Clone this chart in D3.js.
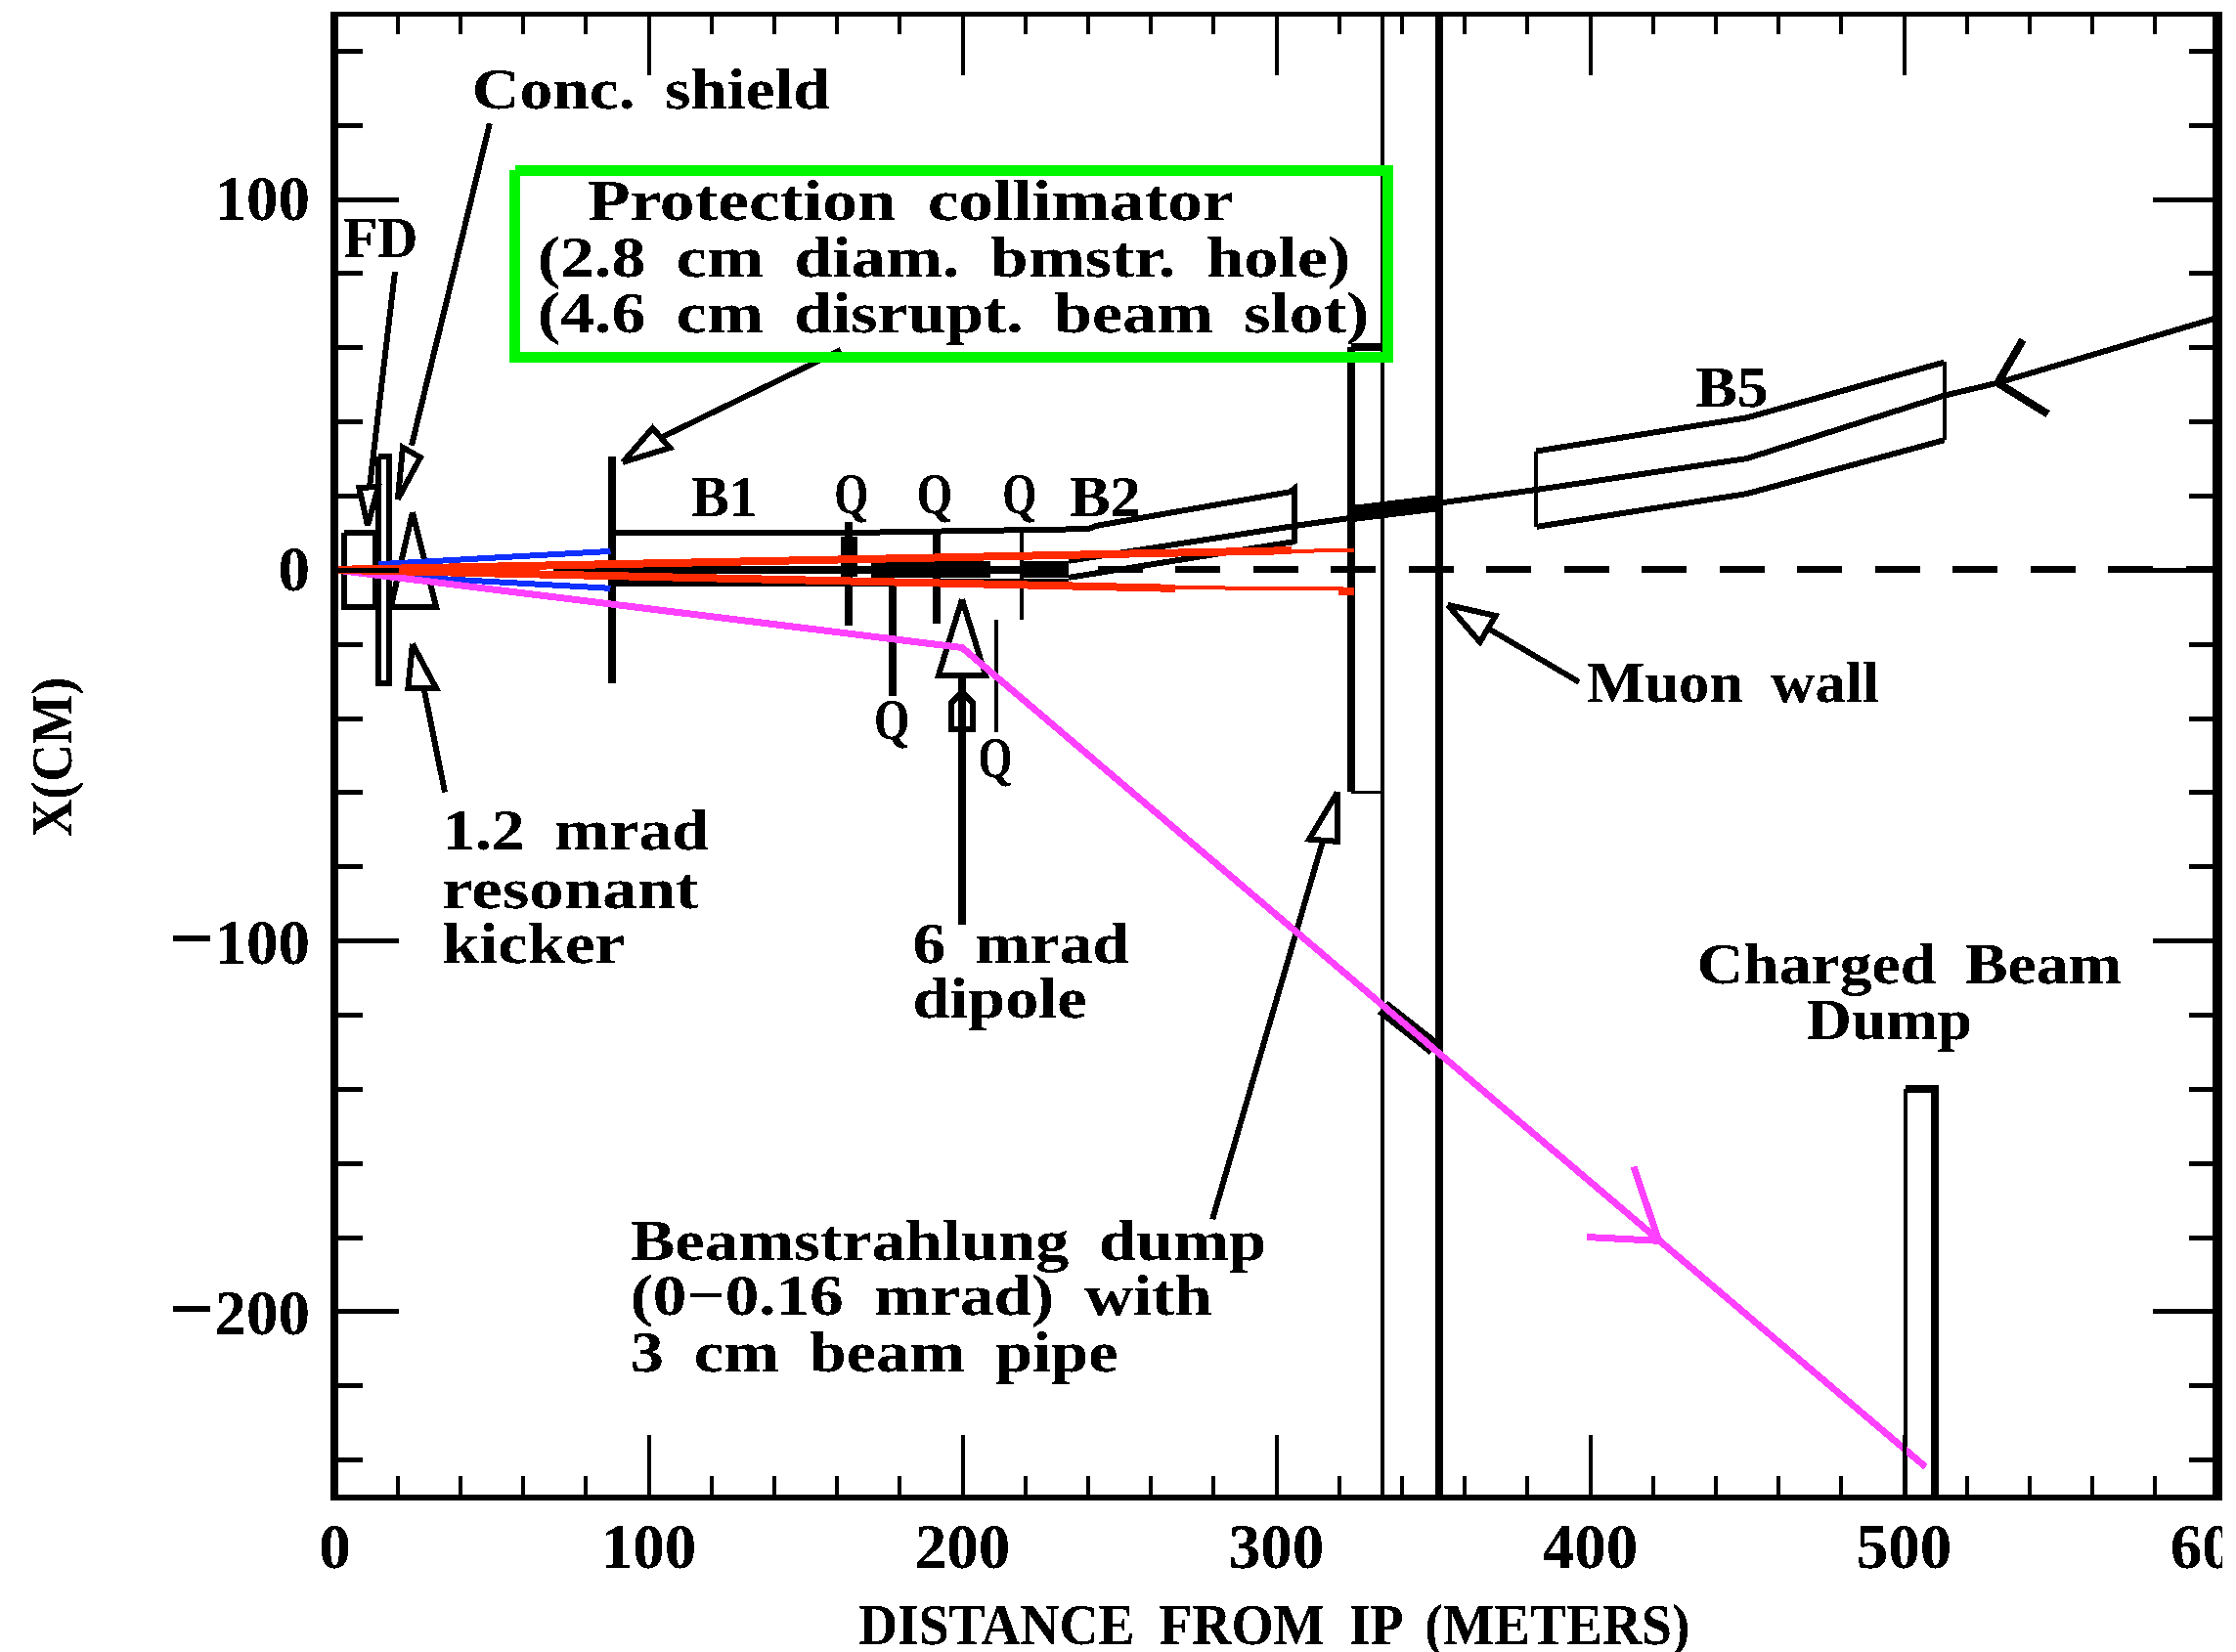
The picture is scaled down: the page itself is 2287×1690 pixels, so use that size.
<!DOCTYPE html>
<html>
<head>
<meta charset="utf-8">
<script src="https://d3js.org/d3.v7.min.js"></script>
<style>
    html, body { margin: 0; padding: 0; background: #fff; }
    svg { display: block; }
    text { font-family: "Liberation Serif", serif; font-weight: bold; fill: #000; word-spacing: 12px; }
    .axis text { font-size: 65px; font-family: "Liberation Serif", serif; }
    .axis .domain { display: none; }
    .axis line { stroke: #000; stroke-width: 4; shape-rendering: crispEdges; }
    .axis.yticks line { stroke-width: 5; }
    .frame { stroke: #000; fill: none; shape-rendering: crispEdges; }
    .mark { fill: none; stroke: #000; stroke-width: 6; shape-rendering: crispEdges; stroke-linejoin: miter; }
    .thin { stroke-width: 3.5; }
    .mid { stroke-width: 4; }
    .heavy { stroke-width: 8; }
    .block { stroke-width: 17; }
    .beam { fill: none; stroke: #ff40ff; stroke-width: 7; shape-rendering: crispEdges; }
    .blue { fill: none; stroke: #1030ff; stroke-width: 6; shape-rendering: crispEdges; }
    .red { fill: none; stroke: #ff2a00; stroke-width: 8; shape-rendering: crispEdges; }
    .red.thin { stroke-width: 4; }
    .centre { fill: none; stroke: #ff2a00; stroke-width: 8; shape-rendering: crispEdges; }
    .greenbox { fill: none; stroke: #00f500; stroke-width: 11; shape-rendering: crispEdges; }
    .dash { fill: none; stroke: #000; stroke-width: 7; stroke-dasharray: 46 33.5; stroke-dashoffset: 14.5; shape-rendering: crispEdges; }
</style>
</head>
<body>
<div id="chart"></div>
<script>
    // ---- axis ticks
    var xMajor = [0, 100, 200, 300, 400, 500, 600];
    var xMinor = [20, 40, 60, 80, 120, 140, 160, 180, 220, 240, 260, 280, 320, 340, 360, 380, 420, 440, 460, 480, 520, 540, 560, 580];
    var yMajor = [-200, -100, 0, 100];
    var yMinor = [-240, -220, -180, -160, -140, -120, -80, -60, -40, -20, 20, 40, 60, 80, 120, 140];

    // ---- beam trajectories (metres, cm)
    var spentBeam = [[0, 0], [200, -21], [507, -242]];
    var spentArrow = [[414, -161], [422, -181], [399, -180]];
    var blueUpper = [[14, 1.5], [88, 5]];
    var blueLower = [[14, -1.5], [88, -5]];
    var redCentre = [[0, 0], [26, 0]];
    var redUpper = [[0, 0], [305, 5.2]];
    var redUpperEnd = [[270, 4.8], [325, 5.2]];
    var redLower = [[0, 0], [268, -5]];
    var redLowerEnd = [[268, -4.8], [325, -5.2]];
    var redLowerBlob = [[320, -5.8], [325, -5.8]];
    var chargedBeam = [[324, 14], [352, 18], [383, 21.6], [450, 30], [513, 47], [530, 50.4], [600, 68]];
    var chargedArrow = [[538, 62], [530, 50.4], [546, 42]];
    var chargedPipe = [[325, 15.2], [352, 18]];

    // ---- magnets
    var b1Top = [[88, 10], [165, 10], [240, 11], [243, 11.9], [304.5, 21], [306, 22], [306, 7]];
    var b1Bottom = [[88, -3.4], [234, -3.4]];
    var b2Middle = [[234, 2.4], [306.5, 11.9], [324, 14]];
    var b2Lower = [[234, -2.1], [306, 7.6]];
    var coreBand = [[82, 0], [234, 0]];
    var coreBlocks = [[[171, 0.2], [209, 0.2]], [[219, 0.2], [234, 0.2]]];
    var q1Block = [[164, 9], [164, -2]];
    var b5Top = [[383, 32], [450, 41], [513, 56]];
    var b5Bottom = [[383, 11.6], [450, 20.5], [513, 35]];
    var b5Ends = [[[383, 32], [383, 11.6]], [[513, 56], [513, 35]]];
    var quadsHeavy = [[[164, 13], [164, -15]], [[192, 10], [192, -14.5]], [[178, -3.4], [178, -34]]];
    var quadsThin = [[[219, 10], [219, -13.4]], [[211, -13.5], [211, -43.7]]];

    // ---- walls, dumps, shields
    var fdBox = [[3, 10], [13, 10], [13, -10], [3, -10], [3, 10]];
    var concShield = [[14, 30.5], [17.4, 30.5], [17.4, -30.5], [14, -30.5], [14, 30.5]];
    var collimator = [[88.5, 30.5], [88.5, -30.5]];
    var kicker = [[24.9, 15.5], [32.4, -10], [18, -10], [24.9, 15.5]];
    var muonWallThin = [[334, 150], [334, -250]];
    var muonWall = [[352, 150], [352, -250]];
    var beamDumpTop = [[324, 60], [334, 60]];
    var beamDumpSide = [[324, -60], [324, 60]];
    var beamDumpBase = [[324, -60], [334, -60]];
    var dumpPipe = [[334, -118], [350.5, -129]];
    var chargedDumpLeft = [[500.6, -250], [500.6, -140]];
    var chargedDump = [[500.6, -140], [510, -140], [510, -250]];
    var dipoleShaft = [[200, -95.7], [200, -28]];
    var dipoleHead = [[200, -8], [207.5, -28.5], [192.5, -28.5], [200, -8]];
    var dipoleTip = [[200, -33], [203.5, -36], [203.5, -43], [196.5, -43], [196.5, -36], [200, -33]];
    var protectionBox = [[57.6, 107.8], [335.8, 107.8], [335.8, 57.2], [57.6, 57.2], [57.6, 107.8]];

    // ---- pointers: [line, head]
    var pointers = [
        [[[49.5, 120.4], [24.6, 33.5]], [[20.2, 19], [21.8, 33], [27.4, 30.3], [20.2, 19]]],
        [[[19.3, 80.4], [11.2, 22.1]], [[10.6, 11.9], [7.9, 22.1], [14, 22.4], [10.6, 11.9]]],
        [[[35.2, -60], [28.5, -31.9]], [[24.9, -20], [23.5, -31.9], [32.4, -31.9], [24.9, -20]]],
        [[[161.4, 59.3], [104, 35.6]], [[91.9, 29], [101.4, 38.2], [106.9, 32.9], [91.9, 29]]],
        [[[396.6, -30.3], [367.6, -15.8]], [[354.8, -9.5], [370, -12.4], [365, -19.5], [354.8, -9.5]]],
        [[[279.8, -175.2], [315, -73]], [[319.6, -60], [310.6, -72.7], [319.6, -73.3], [319.6, -60]]]
    ];

    // ---- labels
    var labelText = ["Conc. shield", "FD", "Protection collimator", "(2.8 cm diam. bmstr. hole)", "(4.6 cm disrupt. beam slot)",
        "B1", "Q", "Q", "Q", "B2", "B5", "Muon wall", "Q", "Q", "1.2 mrad", "resonant", "kicker", "6 mrad", "dipole",
        "Charged Beam", "Dump", "Beamstrahlung dump", "(0\u22120.16 mrad) with", "3 cm beam pipe"];
    // left, right, baseline as read from the 1568 wide preview
    var labelSpots = [[331, 582, 76], [241, 293, 180], [412, 865, 154], [377, 947, 194], [377, 960, 233],
        [485, 531, 362], [585, 609, 360], [643, 668, 360], [703, 727, 360], [750, 800, 362], [1189, 1240, 285],
        [1113, 1318, 492], [613, 638, 518], [686, 710, 545], [310, 497, 596], [310, 490, 637], [310, 438, 675],
        [640, 792, 675], [640, 762, 714], [1190, 1488, 690], [1267, 1383, 729], [442, 888, 884], [442, 850, 922], [442, 784, 962]];

    var W = 2287, H = 1690;
    var k = W / 1568;

    var svg = d3.select("#chart").append("svg")
        .attr("width", W)
        .attr("height", H);

    // threshold filter so the text stays hard edged like the old bitmap
    var defs = svg.append("defs");
    var hard = defs.append("filter").attr("id", "hard")
        .attr("x", "-5%").attr("y", "-10%").attr("width", "110%").attr("height", "120%");
    var ct = hard.append("feComponentTransfer");
    ct.append("feFuncA").attr("type", "discrete").attr("tableValues", "0 0 1 1 1");
    defs.append("clipPath").attr("id", "page").append("rect")
        .attr("x", 0).attr("y", 0).attr("width", 2273).attr("height", H);
    defs.append("clipPath").attr("id", "plot").append("rect")
        .attr("x", 342).attr("y", 14).attr("width", 1926).attr("height", 1517);

    var x = d3.scaleLinear().domain([0, 600]).range([342, 2268]);
    var y = d3.scaleLinear().domain([-250, 150]).range([1531, 14]);
    var line = d3.line().x(function(d) { return x(d[0]); }).y(function(d) { return y(d[1]); });

    var root = svg.append("g").attr("clip-path", "url(#page)");
    var plot = root.append("g").attr("clip-path", "url(#plot)");

    function draw(pts, cls) {
        return plot.append("path").attr("d", line(pts)).attr("class", cls);
    }

    // axes
    var noLabel = function() { return ""; };
    root.append("g").attr("class", "axis").attr("transform", "translate(0,1531)")
        .call(d3.axisBottom(x).tickValues(xMinor).tickSize(-21).tickFormat(noLabel));
    root.append("g").attr("class", "axis").attr("transform", "translate(0,1531)")
        .call(d3.axisBottom(x).tickValues(xMajor).tickSize(-63).tickFormat(noLabel));
    root.append("g").attr("class", "axis").attr("transform", "translate(0,14)")
        .call(d3.axisTop(x).tickValues(xMinor).tickSize(-21).tickFormat(noLabel));
    root.append("g").attr("class", "axis").attr("transform", "translate(0,14)")
        .call(d3.axisTop(x).tickValues(xMajor).tickSize(-63).tickFormat(noLabel));
    root.append("g").attr("class", "axis yticks").attr("transform", "translate(342,0)")
        .call(d3.axisLeft(y).tickValues(yMinor).tickSize(-29).tickFormat(noLabel));
    root.append("g").attr("class", "axis yticks").attr("transform", "translate(342,0)")
        .call(d3.axisLeft(y).tickValues(yMajor).tickSize(-66).tickFormat(noLabel));
    root.append("g").attr("class", "axis yticks").attr("transform", "translate(2268,0)")
        .call(d3.axisRight(y).tickValues(yMinor).tickSize(-29).tickFormat(noLabel));
    root.append("g").attr("class", "axis yticks").attr("transform", "translate(2268,0)")
        .call(d3.axisRight(y).tickValues(yMajor).tickSize(-66).tickFormat(noLabel));
    // tick labels
    root.append("g").attr("class", "axis labels").attr("transform", "translate(0,1531)")
        .call(d3.axisBottom(x).tickValues(xMajor).tickSize(0).tickPadding(27).tickFormat(d3.format("d")));
    root.append("g").attr("class", "axis labels ylabels").attr("transform", "translate(342,0)")
        .call(d3.axisLeft(y).tickValues(yMajor).tickSize(0).tickPadding(25).tickFormat(d3.format("d")));
    // the minus sign is wider in the original
    root.selectAll(".ylabels text").each(function(d) {
        if (d < 0) {
            var t = d3.select(this);
            t.text("");
            t.append("tspan").attr("font-size", 82).attr("dy", "0.3em").text("\u2212");
            t.append("tspan").attr("dy", "-0.02em").text(Math.abs(d));
        }
    });
    root.selectAll(".labels text").attr("filter", "url(#hard)");

    // frame
    var frame = [[342, 12, 342, 1535, 8], [338, 1532, 2273, 1532, 6], [338, 14, 2273, 14, 5], [2268, 12, 2268, 1535, 10]];
    root.selectAll(".frame").data(frame).enter().append("line")
        .attr("class", "frame")
        .attr("x1", function(d) { return d[0]; })
        .attr("y1", function(d) { return d[1]; })
        .attr("x2", function(d) { return d[2]; })
        .attr("y2", function(d) { return d[3]; })
        .attr("stroke-width", function(d) { return d[4]; });

    // zero line
    draw([[0, 0], [600, 0]], "dash");

    // walls and dumps
    draw(muonWallThin, "mark thin");
    draw(muonWall, "mark heavy");
    draw(beamDumpTop, "mark heavy");
    draw(beamDumpSide, "mark heavy");
    draw(beamDumpBase, "mark thin");
    draw(chargedDumpLeft, "mark thin");
    draw(chargedDump, "mark heavy");
    draw(dumpPipe, "mark block");

    // magnets
    draw(fdBox, "mark");
    draw(concShield, "mark");
    draw(kicker, "mark");
    draw(collimator, "mark heavy");
    draw(b1Top, "mark");
    draw(b1Bottom, "mark heavy");
    draw(b2Middle, "mark");
    draw(b2Lower, "mark");
    draw(coreBand, "mark heavy");
    coreBlocks.forEach(function(b) { draw(b, "mark block"); });
    draw(q1Block, "mark block");
    quadsHeavy.forEach(function(q) { draw(q, "mark heavy"); });
    quadsThin.forEach(function(q) { draw(q, "mark mid"); });
    draw(b5Top, "mark");
    draw(b5Bottom, "mark");
    b5Ends.forEach(function(e) { draw(e, "mark mid"); });
    draw(chargedBeam, "mark");
    draw(chargedPipe, "mark block");
    draw(chargedArrow, "mark heavy");

    draw(dipoleShaft, "mark heavy");
    draw(dipoleHead, "mark");
    draw(dipoleTip, "mark");

    pointers.forEach(function(p) {
        draw(p[0], "mark");
        draw(p[1], "mark");
    });

    // beams
    draw(redCentre, "centre");
    draw(blueUpper, "blue");
    draw(blueLower, "blue");
    draw(spentBeam, "beam");
    draw(spentArrow, "beam");
    draw(redUpper, "red");
    draw(redUpperEnd, "red thin");
    draw(redLower, "red");
    draw(redLowerEnd, "red thin");
    draw(redLowerBlob, "red");

    root.append("path").attr("d", line(protectionBox)).attr("class", "greenbox");

    // annotations
    root.append("g").selectAll("text")
        .data(labelText)
        .enter().append("text")
        .attr("x", function(d, i) { return labelSpots[i][0] * k; })
        .attr("y", function(d, i) { return labelSpots[i][2] * k; })
        .attr("font-size", 60)
        .attr("textLength", function(d, i) { return (labelSpots[i][1] - labelSpots[i][0]) * k; })
        .attr("lengthAdjust", "spacingAndGlyphs")
        .attr("filter", "url(#hard)")
        .text(function(d) { return d; });

    // axis titles
    root.append("text")
        .attr("x", 602 * k).attr("y", 1153 * k)
        .attr("font-size", 60)
        .attr("textLength", 583 * k)
        .attr("lengthAdjust", "spacingAndGlyphs")
        .attr("filter", "url(#hard)")
        .text("DISTANCE FROM IP (METERS)");
    root.append("text")
        .attr("transform", "translate(" + (50 * k) + "," + (587 * k) + ") rotate(-90)")
        .attr("font-size", 60)
        .attr("textLength", 112 * k)
        .attr("lengthAdjust", "spacingAndGlyphs")
        .attr("filter", "url(#hard)")
        .text("X(CM)");
</script>
</body>
</html>
